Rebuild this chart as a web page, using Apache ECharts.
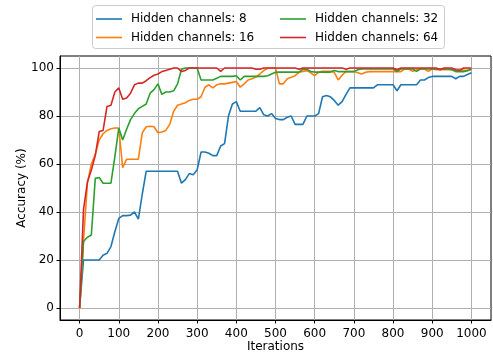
<!DOCTYPE html>
<html>
<head>
<meta charset="utf-8">
<script src="https://cdn.jsdelivr.net/npm/echarts@6/dist/echarts.min.js"></script>
<style>
  html, body { margin: 0; padding: 0; background: #fff; }
  #chart { width: 493px; height: 354px; }
</style>
</head>
<body>
<div id="chart"></div>
<script>
// Training iterations (x values)
const iterations = [
  0, 10, 20, 30, 40, 50, 60, 70, 80, 90,
  100, 110, 120, 130, 140, 150, 160, 170, 180, 190,
  200, 210, 220, 230, 240, 250, 260, 270, 280, 290,
  300, 310, 320, 330, 340, 350, 360, 370, 380, 390,
  400, 410, 420, 430, 440, 450, 460, 470, 480, 490,
  500, 510, 520, 530, 540, 550, 560, 570, 580, 590,
  600, 610, 620, 630, 640, 650, 660, 670, 680, 690,
  700, 710, 720, 730, 740, 750, 760, 770, 780, 790,
  800, 810, 820, 830, 840, 850, 860, 870, 880, 890,
  900, 910, 920, 930, 940, 950, 960, 970, 980, 990,
  1000
];

// Accuracy (%) per hidden-channel setting
const acc8 = [
  0, 20, 20, 20, 20, 20, 22, 22.8, 25.6, 31.8,
  37.3, 38.5, 38.5, 38.7, 40, 37, 47.5, 57, 57, 57,
  57, 57, 57, 57, 57, 57, 52, 53.5, 56, 55.5,
  57.5, 65, 65, 64.5, 63.5, 63.5, 67.5, 68.5, 80, 85,
  86, 82, 82, 82, 82, 82, 83.5, 80.5, 80, 81,
  79, 78.5, 78.5, 79.5, 80, 76.5, 76.5, 76.5, 80, 80,
  80, 81, 88, 88.5, 88, 86.5, 84.5, 86, 89, 91.7,
  91.7, 91.7, 91.7, 91.7, 91.7, 91.7, 93, 93, 93, 93,
  93, 90.5, 93, 93, 93, 93, 93, 95, 95, 96,
  96.5, 96.5, 96.5, 96.5, 96.5, 96.5, 95.5, 96.5, 96.5, 97.3,
  98
];
const acc16 = [
  0, 28, 52, 60, 64, 70, 72.6, 74, 74.7, 75,
  75, 58.5, 62, 62, 62, 62, 73, 75.5, 75.7, 75.5,
  73, 73.3, 74, 76.5, 82, 84.5, 85, 85.5, 86.5, 87,
  87, 88, 92, 93, 91.7, 93, 93.4, 93.4, 93.7, 94,
  94.4, 92, 93.4, 95, 95.5, 96.2, 97.5, 98.9, 99.9, 100,
  100, 93.4, 93.4, 95.5, 96.1, 96.8, 98.2, 98.6, 98.9, 98,
  96.8, 98.2, 98.6, 98.6, 98.6, 98.2, 95, 97, 98.6, 98.5,
  98.5, 98, 97.5, 98.2, 98.5, 98.5, 98.5, 98.5, 98.5, 98.5,
  98.5, 98.5, 98.5, 99.6, 99.6, 98.6, 99.3, 99.6, 99.6, 98.6,
  99.6, 99.3, 99.3, 99.3, 99.3, 99.3, 99, 99, 99, 99,
  99.3
];
const acc32 = [
  0, 27.7, 29.5, 30.4, 54, 54.4, 52, 52, 52, 63,
  75, 70, 74.5, 78.5, 81, 83, 84, 85, 89.5, 91,
  93.4, 89, 90, 90, 90.5, 93.4, 99.5, 100, 100, 100,
  100, 95, 95, 95, 95, 95.7, 96.5, 96.5, 96.5, 96.5,
  96.8, 95, 96.5, 96.5, 96.5, 96.5, 96.5, 96.5, 96.8, 97.5,
  98.2, 98.3, 98.3, 98.3, 98.3, 98.3, 98.3, 99.5, 99.5, 98.5,
  98.3, 98.3, 98.3, 98.3, 98.3, 99, 98.5, 98.5, 98.5, 98.5,
  98.5, 99.3, 99.6, 99.6, 99.6, 99.6, 99.6, 99.6, 99.6, 99.6,
  99.6, 98.5, 99.6, 99.6, 99.6, 99.6, 98.6, 99.6, 99.6, 99.6,
  99.6, 99.6, 99.6, 99.6, 99.6, 99.3, 98.5, 98.5, 98.5, 98.9,
  99.6
];
const acc64 = [
  0, 41, 52.5, 57.5, 63.5, 73.5, 74, 84, 84.5, 90,
  91.7, 87, 87.5, 89.5, 93, 93.7, 93.7, 94.7, 96, 97,
  97.5, 98.5, 99, 99.5, 100, 100, 98.5, 99, 100, 100,
  100, 100, 100, 100, 100, 100, 98.6, 100, 100, 100,
  100, 100, 100, 100, 100, 99.5, 99.5, 100, 100, 100,
  100, 100, 100, 100, 100, 100, 99.5, 100, 100, 100,
  100, 100, 100, 100, 100, 100, 100, 100, 99.5, 100,
  100, 100, 100, 100, 100, 100, 100, 100, 100, 100,
  100, 99.3, 100, 100, 100, 100, 100, 100, 100, 100,
  100, 100, 99.3, 100, 100, 100, 99.3, 99, 100, 100,
  100
];

const seriesNames = ['Hidden channels: 8', 'Hidden channels: 16', 'Hidden channels: 32', 'Hidden channels: 64'];
const seriesColors = ['#1f77b4', '#ff7f0e', '#2ca02c', '#d62728'];
const xTicks = [0, 100, 200, 300, 400, 500, 600, 700, 800, 900, 1000];
const yTicks = [0, 20, 40, 60, 80, 100];

const FONT = 'DejaVu Sans';
const values = [acc8, acc16, acc32, acc64];

const chart = echarts.init(document.getElementById('chart'), null, { renderer: 'canvas' });

const series = values.map((vals, i) => ({
  name: seriesNames[i],
  type: 'line',
  data: iterations.map((it, j) => [it, vals[j]]),
  showSymbol: false,
  symbol: 'none',
  lineStyle: { width: 1.6, color: seriesColors[i] },
  itemStyle: { color: seriesColors[i] },
  animation: false,
  z: 2 + i
}));

const legendCommon = {
  orient: 'vertical',
  top: 12,
  icon: 'rect',
  itemWidth: 26,
  itemHeight: 1.6,
  itemGap: 4.5,
  padding: 0,
  selectedMode: false,
  textStyle: { fontFamily: FONT, fontSize: 12, color: '#000', lineHeight: 14, padding: [0, 0, 0, 4] }
};

chart.setOption({
  animation: false,
  backgroundColor: '#fff',
  grid: {
    left: 60, right: 2, top: 56, bottom: 34,
    outerBoundsMode: 'none',
    containLabel: false,
    show: true, borderColor: '#000', borderWidth: 1, backgroundColor: 'transparent'
  },
  graphic: [{
    type: 'rect',
    shape: { x: 92.5, y: 5.5, width: 352, height: 43, r: 3 },
    style: { fill: 'rgba(255,255,255,0.8)', stroke: '#cccccc', lineWidth: 1 },
    z: 100
  }],
  legend: [
    Object.assign({ left: 96, data: seriesNames.slice(0, 2), z: 110 }, legendCommon),
    Object.assign({ left: 280, data: seriesNames.slice(2, 4), z: 110 }, legendCommon)
  ],
  xAxis: {
    type: 'value',
    min: -50, max: 1050,
    name: 'Iterations',
    nameLocation: 'middle',
    nameGap: 21,
    nameMoveOverlap: false,
    nameTextStyle: { fontFamily: FONT, fontSize: 12, color: '#000' },
    axisLine: { show: true, onZero: false, lineStyle: { color: '#000', width: 1 } },
    axisTick: { show: true, length: 3.5, customValues: xTicks, lineStyle: { color: '#000' } },
    axisLabel: {
      customValues: xTicks, fontFamily: FONT, fontSize: 12, color: '#000', margin: 7.5,
      formatter: (v) => String(v)
    },
    splitLine: { show: true, lineStyle: { color: '#b0b0b0', width: 1 } }
  },
  yAxis: {
    type: 'value',
    min: -5, max: 105,
    name: 'Accuracy (%)',
    nameLocation: 'middle',
    nameGap: 32,
    nameMoveOverlap: false,
    nameTextStyle: { fontFamily: FONT, fontSize: 12, color: '#000' },
    axisLine: { show: true, onZero: false, lineStyle: { color: '#000', width: 1 } },
    axisTick: { show: true, length: 3.5, customValues: yTicks, lineStyle: { color: '#000' } },
    axisLabel: {
      customValues: yTicks, fontFamily: FONT, fontSize: 12, color: '#000', margin: 6,
      formatter: (v) => String(v)
    },
    splitLine: { show: true, lineStyle: { color: '#b0b0b0', width: 1 } }
  },
  series: series
});
</script>
</body>
</html>
